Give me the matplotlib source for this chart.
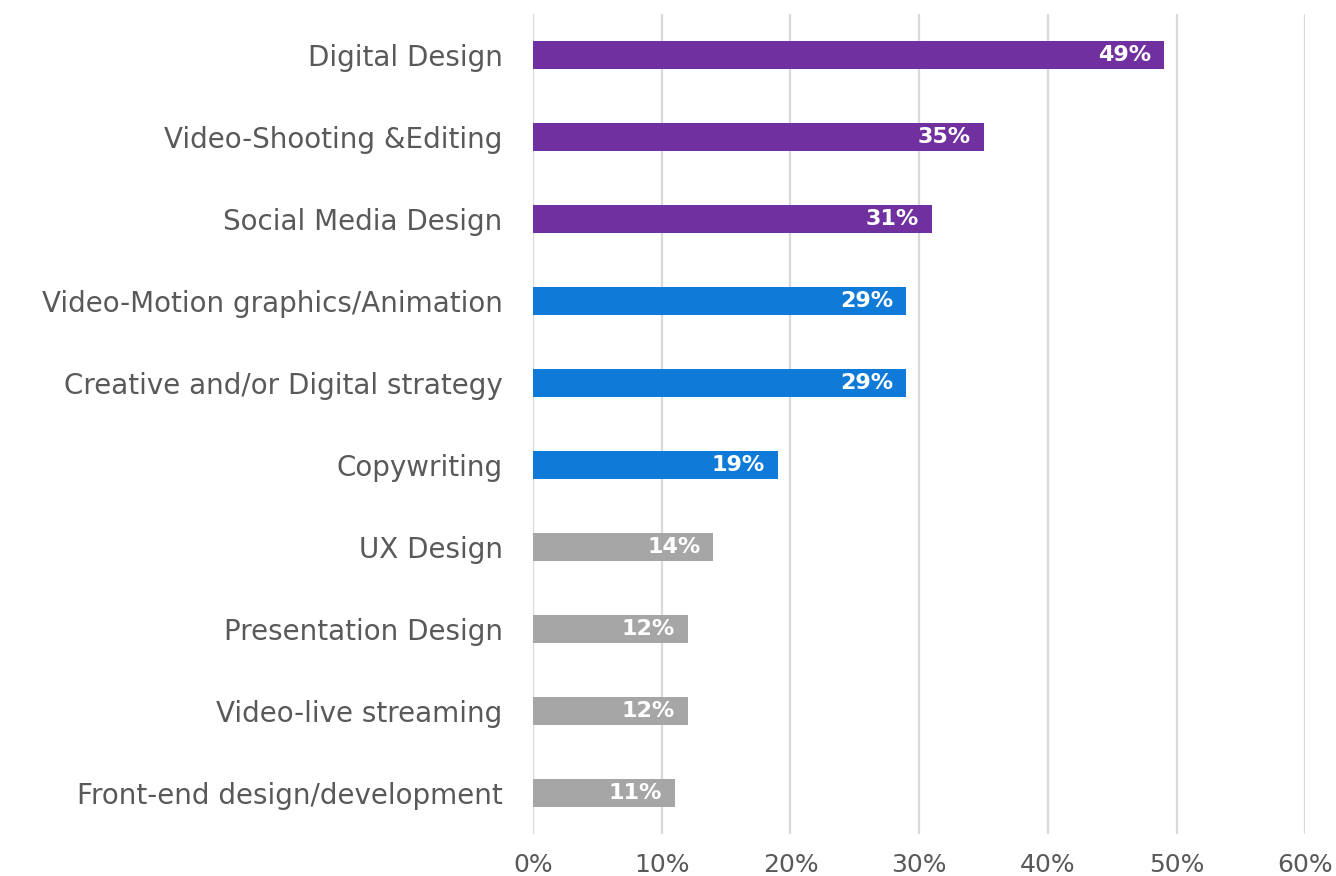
import numpy as np
import matplotlib.pyplot as plt

categories = [
    'Digital Design',
    'Video-Shooting &Editing',
    'Social Media Design',
    'Video-Motion graphics/Animation',
    'Creative and/or Digital strategy',
    'Copywriting',
    'UX Design',
    'Presentation Design',
    'Video-live streaming',
    'Front-end design/development',
]
shares = [49, 35, 31, 29, 29, 19, 14, 12, 12, 11]
tiers = ['top'] * 3 + ['mid'] * 3 + ['low'] * 4
tier_colors = {'top': '#7030A0', 'mid': '#0F7AD8', 'low': '#A6A6A6'}
xticks = [0, 10, 20, 30, 40, 50, 60]

plt.rcParams['font.family'] = ['DejaVu Sans']

fig = plt.figure(figsize=(13.36, 8.76), dpi=100)
ax = fig.add_axes([0.399, 0.048, 0.578, 0.936])

y = np.arange(len(categories))
bars = ax.barh(y, shares, height=0.34, color=[tier_colors[t] for t in tiers], zorder=3)

# value labels sit inside the bar end
for b, v in zip(bars, shares):
    ax.text(b.get_width() - 1.0, b.get_y() + b.get_height() / 2, f'{v}%',
            ha='right', va='center', color='white', fontsize=16, fontweight='bold', zorder=4)

ax.set_ylim(len(categories) - 0.5, -0.5)
ax.set_xlim(0, 60)
ax.set_xticks(xticks)
ax.set_xticklabels([f'{t}%' for t in xticks])
ax.set_yticks(y)
ax.set_yticklabels(categories)

ax.grid(axis='x', color='#D9D9D9', linewidth=1.6, zorder=0)
for s in ax.spines.values():
    s.set_visible(False)
ax.tick_params(axis='both', length=0, colors='#595959')
ax.tick_params(axis='y', labelsize=20, pad=22)
ax.tick_params(axis='x', labelsize=18, pad=14)

fig.savefig('out.png', dpi=100)
